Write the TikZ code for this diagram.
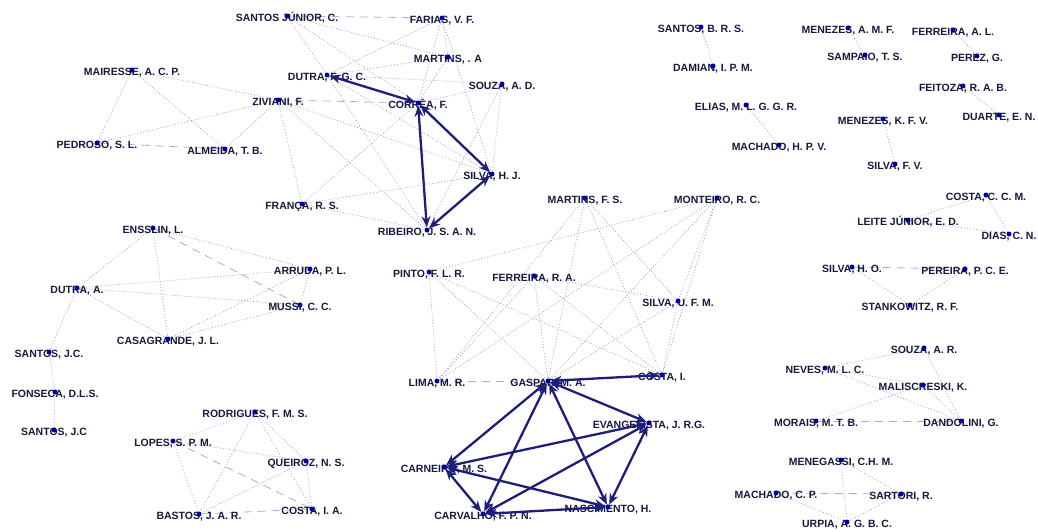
\documentclass[tikz,border=0pt]{standalone}
\usepackage{fontspec}
\setmainfont{Liberation Sans}
\usetikzlibrary{arrows.meta}
\definecolor{nametext}{HTML}{18183F}
\definecolor{dotblue}{HTML}{0000A8}
\definecolor{tiecol}{HTML}{1E1E7A}
\definecolor{faint}{HTML}{9C9CD4}
\pgfdeclarelayer{background}
\pgfsetlayers{background,main}

\begin{document}
\begin{tikzpicture}[x=1pt, y=-1pt, >={Stealth[length=11pt,width=9pt]},
  authname/.style={text=nametext, font=\fontsize{10.5}{12}\selectfont\bfseries, inner sep=0pt, anchor=base},
  authdot/.style={circle, fill=dotblue, inner sep=0pt, minimum size=5pt},
  coauth/.style={faint, line width=0.65pt, dash pattern=on 1pt off 2pt},
  coauthd/.style={faint!85, line width=0.8pt, dash pattern=on 8pt off 6pt},
  tie/.style={tiecol, line width=2.3pt, <->}]
  \useasboundingbox (0,0) rectangle (1038,531);
  % authors: name/x/y/label, label centred on the dot
  \foreach \n/\x/\y/\t in {
    sjunior/287/16/{SANTOS JÚNIOR, C.}, farias/442/18/{FARIAS, V. F.},
    martinsa/448/57/{MARTINS, . A}, dutrafgc/327/75/{DUTRA, F. G. C.},
    mairesse/132/70/{MAIRESSE, A. C. P.}, ziviani/278/100/{ZIVIANI, F.},
    souzaad/502/84/{SOUZA, A. D.}, correa/418/103/{CORRÊA, F.},
    pedroso/97/143/{PEDROSO, S. L.}, almeida/225/149/{ALMEIDA, T. B.},
    silvahj/492/174/{SILVA, H. J.}, franca/302/204/{FRANÇA, R. S.},
    ribeiro/427/230/{RIBEIRO, J. S. A. N.},
    santosbrs/701/27/{SANTOS, B. R. S.}, damian/713/66/{DAMIAN, I. P. M.},
    menezesamf/848/28/{MENEZES, A. M. F.}, ferreiraal/953/30/{FERREIRA, A. L.},
    sampaio/865/55/{SAMPAIO, T. S.}, perez/977/56/{PEREZ, G.},
    feitoza/963/86/{FEITOZA, R. A. B.}, duarte/999/115/{DUARTE, E. N.},
    elias/746/105/{ELIAS, M. L. G. G. R.}, menezeskfv/883/119/{MENEZES, K. F. V.},
    machadohpv/779/145/{MACHADO, H. P. V.}, silvafv/895/164/{SILVA, F. V.},
    ensslin/153/228/{ENSSLIN, L.}, arruda/310/269/{ARRUDA, P. L.},
    dutraa/77/288/{DUTRA, A.}, mussi/300/305/{MUSSI, C. C.},
    casagrande/168/339/{CASAGRANDE, J. L.}, santosjc/49/352/{SANTOS, J.C.},
    fonseca/55/392/{FONSECA, D.L.S.}, santosjcb/54/430/{SANTOS, J.C},
    martinsfs/585/198/{MARTINS, F. S.}, monteiro/717/198/{MONTEIRO, R. C.},
    pinto/429/272/{PINTO, F. L. R.}, ferreirara/534/276/{FERREIRA, R. A.},
    silvaufm/678/301/{SILVA, U. F. M.}, lima/437/381/{LIMA, M. R.},
    gaspar/548/381/{GASPAR, M. A.}, costai/662/375/{COSTA, I.},
    evangelista/649/423/{EVANGELISTA, J. R.G.}, carneiro/444/467/{CARNEIRO, M. S.},
    carvalho/483/514/{CARVALHO, F. P. N.}, nascimento/608/507/{NASCIMENTO, H.},
    rodrigues/255/412/{RODRIGUES, F. M. S.}, lopes/173/441/{LOPES, S. P. M.},
    queiroz/306/461/{QUEIROZ, N. S.}, bastos/199/514/{BASTOS, J. A. R.},
    costaia/312/509/{COSTA, I. A.},
    costaccm/986/195/{COSTA, C. C. M.}, leite/908/220/{LEITE JÚNIOR, E. D.},
    dias/1009/234/{DIAS, C. N.}, silvaho/852/267/{SILVA, H. O.},
    pereira/965/269/{PEREIRA, P. C. E.}, stankowitz/910/305/{STANKOWITZ, R. F.},
    souzaar/924/348/{SOUZA, A. R.}, neves/825/368/{NEVES, M. L. C.},
    maliscreski/923/385/{MALISCRESKI, K.}, morais/816/421/{MORAIS, M. T. B.},
    dandolini/961/421/{DANDOLINI, G.}, menegassi/841/460/{MENEGASSI, C.H. M.},
    machadocp/776/493/{MACHADO, C. P.}, sartori/901/494/{SARTORI, R.},
    urpia/847/522/{URPIA, A. G. B. C.}}
  {
    \node[authname] (\n-t) at (\x,\y) [yshift=-5.5pt] {\t};
    \node[authdot] (\n) at (\x,\y) {};
  }
  % weak co-authorship ties
  \begin{pgfonlayer}{background}
  \foreach \a/\b in {sjunior/dutrafgc, sjunior/correa, sjunior/martinsa,
    farias/martinsa, farias/correa, farias/dutrafgc, farias/silvahj,
    martinsa/dutrafgc, martinsa/correa, dutrafgc/souzaad, dutrafgc/ribeiro,
    dutrafgc/silvahj, souzaad/correa, souzaad/silvahj, souzaad/ribeiro,
    ziviani/mairesse, ziviani/pedroso, ziviani/almeida, ziviani/franca,
    ziviani/silvahj, ziviani/ribeiro, mairesse/pedroso, mairesse/almeida,
    franca/correa, franca/silvahj, franca/ribeiro,
    santosbrs/damian, elias/machadohpv, menezeskfv/silvafv, ferreiraal/perez,
    feitoza/duarte, menezesamf/sampaio,
    ensslin/dutraa, ensslin/arruda, ensslin/casagrande, dutraa/arruda,
    dutraa/mussi, dutraa/casagrande, dutraa/santosjc, arruda/mussi,
    arruda/casagrande, mussi/casagrande, santosjc/fonseca, fonseca/santosjcb,
    pinto/monteiro, pinto/lima, pinto/gaspar, pinto/costai, martinsfs/lima,
    martinsfs/gaspar, martinsfs/costai, martinsfs/silvaufm, monteiro/gaspar,
    monteiro/costai, monteiro/silvaufm, monteiro/lima, ferreirara/gaspar,
    ferreirara/costai, ferreirara/silvaufm, ferreirara/lima, silvaufm/gaspar,
    silvaufm/costai,
    rodrigues/lopes, rodrigues/queiroz, rodrigues/bastos, rodrigues/costaia,
    lopes/queiroz, lopes/bastos, queiroz/bastos, queiroz/costaia,
    costaccm/leite, costaccm/dias, leite/dias, silvaho/stankowitz,
    pereira/stankowitz, souzaar/neves, souzaar/dandolini, neves/maliscreski,
    neves/dandolini, maliscreski/morais, maliscreski/dandolini,
    menegassi/urpia, menegassi/sartori, machadocp/urpia, sartori/urpia}
    \draw[coauth] (\a) -- (\b);
  \foreach \a/\b in {sjunior/farias, pedroso/almeida, ziviani/correa,
    ensslin/mussi, lopes/costaia, bastos/costaia, lima/gaspar,
    silvaho/pereira, morais/dandolini, machadocp/sartori}
    \draw[coauthd] (\a) -- (\b);
  \end{pgfonlayer}
  % strong ties
  \foreach \a/\b in {correa/dutrafgc, correa/silvahj, correa/ribeiro,
    silvahj/ribeiro, gaspar/costai, gaspar/evangelista, gaspar/carneiro,
    gaspar/carvalho, gaspar/nascimento, evangelista/carneiro,
    evangelista/carvalho, evangelista/nascimento, carneiro/carvalho,
    carneiro/nascimento, carvalho/nascimento}
    \draw[tie] (\a) -- (\b);
\end{tikzpicture}
\end{document}
